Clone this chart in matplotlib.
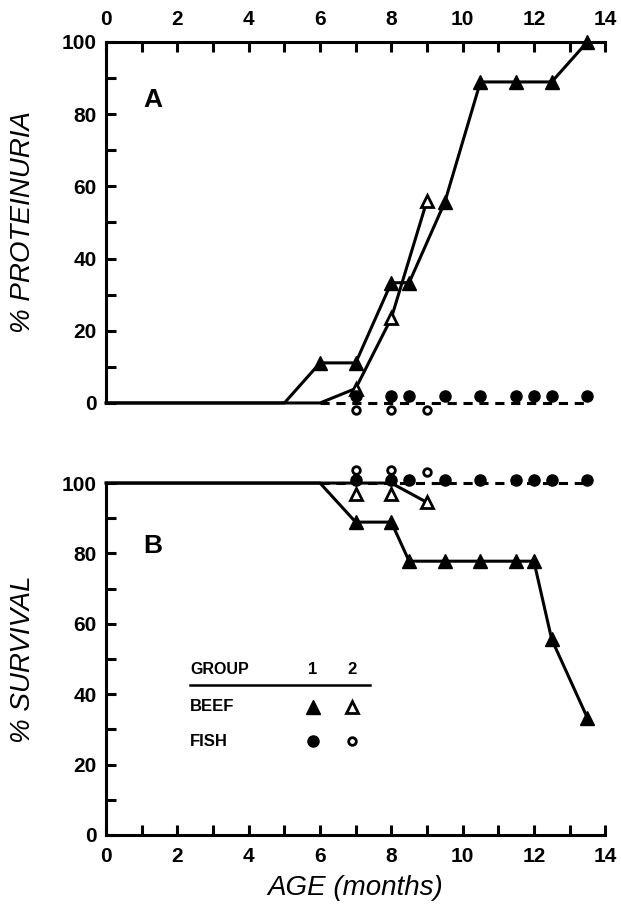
import matplotlib
matplotlib.use("Agg")
import matplotlib.pyplot as plt

# panel A: % proteinuria
beef1_age_a = [0, 5, 6, 7, 8, 8.5, 9.5, 10.5, 11.5, 12.5, 13.5]
beef1_prot = [0, 0, 11.1, 11.1, 33.3, 33.3, 55.6, 88.9, 88.9, 88.9, 100]
beef2_age_a = [0, 6, 7, 8, 9]
beef2_prot = [0, 0, 4, 23.5, 56]
fish_line_age = [6, 13.5]
fish_line_a = [0, 0]
fish1_age = [7, 8, 8.5, 9.5, 10.5, 11.5, 12, 12.5, 13.5]
fish1_prot = [2, 2, 2, 2, 2, 2, 2, 2, 2]
fish2_age = [7, 8, 9]
fish2_prot = [-2, -2, -2]

# panel B: % survival
beef1_age_b = [0, 6, 7, 8, 8.5, 9.5, 10.5, 11.5, 12, 12.5, 13.5]
beef1_surv = [100, 100, 88.9, 88.9, 77.8, 77.8, 77.8, 77.8, 77.8, 55.6, 33.3]
beef2_line_age = [0, 7, 8, 9]
beef2_line_surv = [100, 100, 100, 94.5]
beef2_age_b = [7, 8, 9]
beef2_surv = [97, 97, 94.5]
fish_line_b = [100, 100]
fish1_surv = [101, 101, 101, 101, 101, 101, 101, 101, 101]
fish2_surv = [103.7, 103.7, 103]

x_ticks = list(range(15))
x_labels = [str(i) if i % 2 == 0 else '' for i in x_ticks]
y_ticks = list(range(0, 101, 10))
y_labels = [str(i) if i % 20 == 0 else '' for i in y_ticks]

plt.rcParams['font.family'] = ['Liberation Sans', 'DejaVu Sans']

fig = plt.figure(figsize=(6.21, 9.08), dpi=100)
axA = fig.add_axes([0.171, 0.5562, 0.8035, 0.3977])
axB = fig.add_axes([0.171, 0.0804, 0.8035, 0.3876])

lw = 2.2
dash = (3, 2.2)


def style_axis(ax, top):
    ax.set_xlim(0, 14)
    ax.set_ylim(0, 100)
    for side in ['left', 'right', 'top', 'bottom']:
        ax.spines[side].set_linewidth(lw)
    ax.spines['right'].set_visible(False)
    if top:
        ax.spines['bottom'].set_visible(False)
        ax.xaxis.tick_top()
    else:
        ax.spines['top'].set_visible(False)
    ax.set_xticks(x_ticks)
    ax.set_xticklabels(x_labels)
    ax.set_yticks(y_ticks)
    ax.set_yticklabels(y_labels)
    ax.tick_params(direction='in', length=7, width=lw, labelsize=15, pad=7)
    ax.tick_params(axis='x', pad=9)
    for lab in ax.get_xticklabels() + ax.get_yticklabels():
        lab.set_fontweight('bold')


# ---- panel A
style_axis(axA, True)
axA.plot(beef1_age_a, beef1_prot, color='k', lw=lw, clip_on=False)
axA.plot(beef1_age_a[2:], beef1_prot[2:], 'k^', ms=10.5, clip_on=False)
axA.plot(beef2_age_a, beef2_prot, color='k', lw=lw, clip_on=False)
axA.plot(beef2_age_a[2:], beef2_prot[2:], '^', ms=8, mfc='white', mec='k', mew=2, clip_on=False)
axA.plot(fish_line_age, fish_line_a, color='k', lw=lw, dashes=dash, clip_on=False)
axA.plot(fish1_age, fish1_prot, 'ko', ms=8, clip_on=False)
axA.plot(fish2_age, fish2_prot, 'o', ms=5.5, mfc='white', mec='k', mew=2, clip_on=False)
axA.set_ylabel('% PROTEINURIA', fontsize=20, style='italic', labelpad=18)
axA.text(1.3, 84, 'A', fontsize=19, fontweight='bold', ha='center', va='center')

# ---- panel B
style_axis(axB, False)
axB.plot(beef1_age_b, beef1_surv, color='k', lw=lw, clip_on=False)
axB.plot(beef1_age_b[2:], beef1_surv[2:], 'k^', ms=10.5, clip_on=False)
axB.plot(beef2_line_age, beef2_line_surv, color='k', lw=lw, clip_on=False)
axB.plot(beef2_age_b, beef2_surv, '^', ms=8, mfc='white', mec='k', mew=2, clip_on=False)
axB.plot(fish_line_age, fish_line_b, color='k', lw=lw, dashes=dash, clip_on=False)
axB.plot(fish1_age, fish1_surv, 'ko', ms=8, clip_on=False)
axB.plot(fish2_age, fish2_surv, 'o', ms=5.5, mfc='white', mec='k', mew=2, clip_on=False)
axB.set_ylabel('% SURVIVAL', fontsize=20, style='italic', labelpad=18)
axB.set_xlabel('AGE (months)', fontsize=20, style='italic', labelpad=6)
axB.text(1.3, 82, 'B', fontsize=19, fontweight='bold', ha='center', va='center')

# legend table
axB.text(2.35, 47, 'GROUP', fontsize=11.5, fontweight='bold', va='center')
axB.text(5.8, 47, '1', fontsize=12, fontweight='bold', va='center', ha='center')
axB.text(6.9, 47, '2', fontsize=12, fontweight='bold', va='center', ha='center')
axB.plot([2.35, 7.4], [42.5, 42.5], color='k', lw=1.8)
axB.text(2.35, 36.4, 'BEEF', fontsize=12, fontweight='bold', va='center')
axB.text(2.35, 26.6, 'FISH', fontsize=12, fontweight='bold', va='center')
axB.plot([5.8], [36.4], 'k^', ms=10)
axB.plot([6.9], [36.4], '^', ms=8, mfc='white', mec='k', mew=2)
axB.plot([5.8], [26.6], 'ko', ms=8)
axB.plot([6.9], [26.6], 'o', ms=5.5, mfc='white', mec='k', mew=2)

fig.savefig('out.png', dpi=100)
